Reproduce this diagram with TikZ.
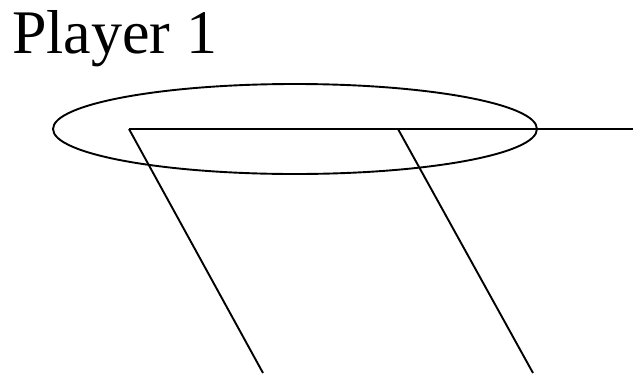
\documentclass[tikz,border=0pt]{standalone}
\usepackage{fontspec}
\setmainfont{Liberation Serif}
\begin{document}
\begin{tikzpicture}[x=1pt,y=-1pt,edge/.style={line width=1.9pt,black}]
\useasboundingbox (0,0) rectangle (635,373);
\node[anchor=base west,inner sep=0pt,font=\fontsize{62}{70}\selectfont] (title) at (12,53) {Player 1};
\draw[edge] (295,129) ellipse [x radius=242, y radius=45];
\coordinate (n1) at (129,129);
\coordinate (n2) at (398,129);
\coordinate (e) at (633,129);
\coordinate (b1) at (263,373);
\coordinate (b2) at (533,373);
\draw[edge] (n1) -- (n2) -- (e);
\draw[edge] (n1) -- (b1);
\draw[edge] (n2) -- (b2);
\end{tikzpicture}
\end{document}
